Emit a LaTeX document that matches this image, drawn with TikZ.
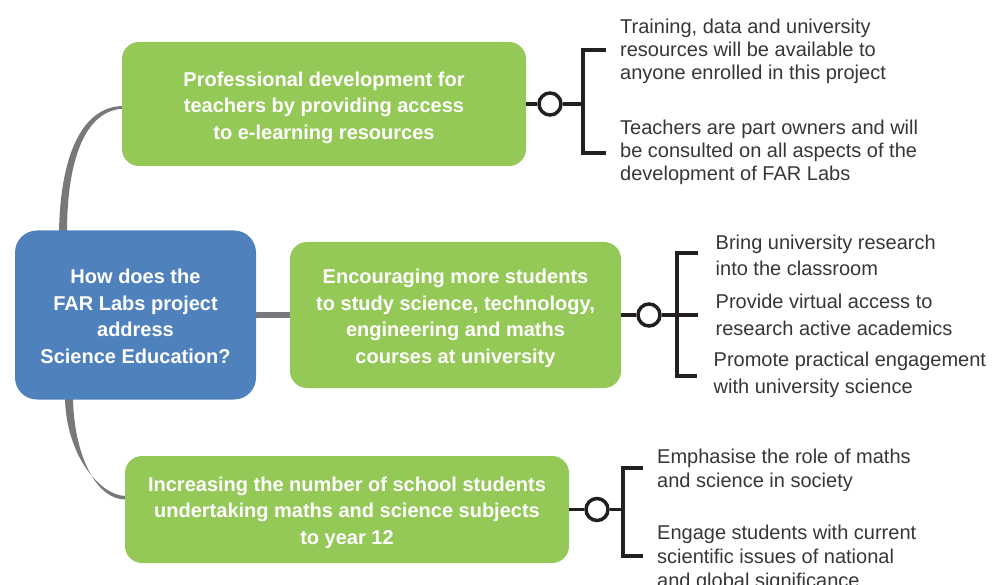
\documentclass[tikz,border=0pt]{standalone}
\usepackage{fontspec}
\setmainfont{Liberation Sans}
\usetikzlibrary{calc}
\definecolor{leafgreen}{HTML}{94C857}
\definecolor{hubblue}{HTML}{4F81BD}
\definecolor{stemgrey}{HTML}{77787B}
\definecolor{inkblack}{HTML}{231F20}
\begin{document}
\begin{tikzpicture}[x=1pt,y=-1pt,
  hub/.style={fill=hubblue, rounded corners=22pt, inner sep=0pt},
  topic/.style={fill=leafgreen, rounded corners=17pt, inner sep=0pt},
  boxtext/.style={text=white, font=\bfseries\fontsize{20}{26.5}\selectfont,
    align=center, inner sep=0pt},
  detail/.style={anchor=north west, align=left, inner sep=0pt,
    text=inkblack!90, font=\fontsize{20}{23}\selectfont},
  knob/.style={circle, draw=inkblack, line width=3.5pt, fill=white,
    minimum size=22pt, inner sep=0pt},
  wire/.style={draw=inkblack, line width=3.5pt},
  brace/.style={draw=inkblack, line width=4pt},
]
\useasboundingbox (0,0) rectangle (1006,585);

% tapered stems from the question to the upper and lower topics
\fill[stemgrey] (59,233) .. controls (60,160) and (80,105.8) .. (124,106)
  -- (124,108.6) .. controls (84,110) and (67,162) .. (67,233) -- cycle;
\fill[stemgrey] (65,398) .. controls (66,455) and (100,496) .. (126,496)
  -- (126,499.5) .. controls (96,500) and (74,455) .. (73,398) -- cycle;

% central question
\node[hub, minimum width=241pt, minimum height=169pt,
  label={[boxtext, yshift=-1.5pt]center:{How does the\\FAR Labs project\\address\\Science Education?}}]
  (q) at (135.5,315) {};

% topics
\node[topic, minimum width=404pt, minimum height=124pt,
  label={[boxtext, yshift=-3.5pt]center:{Professional development for\\teachers by providing access\\to e-learning resources}}]
  (t1) at (324,104) {};
\node[topic, minimum width=331pt, minimum height=146pt,
  label={[boxtext, yshift=-3.5pt]center:{Encouraging more students\\to study science, technology,\\engineering and maths\\courses at university}}]
  (t2) at (455.5,315) {};
\node[topic, minimum width=444pt, minimum height=107pt,
  label={[boxtext, yshift=-3pt]center:{Increasing the number of school students\\undertaking maths and science subjects\\to year 12}}]
  (t3) at (347,509.5) {};

\draw[stemgrey, line width=5.5pt] (q.east) -- (t2.west);

% knobs on the right of each topic
\node[knob] (k1) at (550,104) {};
\node[knob] (k2) at (649,315) {};
\node[knob] (k3) at (597,509.5) {};

\draw[wire] (t1.east) -- (k1.west);
\draw[wire] (t2.east) -- (k2.west);
\draw[wire] (t3.east) -- (k3.west);

% brackets
\coordinate (b1) at (583,104);
\coordinate (b1t) at (606,50);
\coordinate (b1b) at (606,153);
\draw[wire] (k1.east) -- (b1);
\draw[brace] (b1t) -| (b1) |- (b1b);

\coordinate (b2) at (677,315);
\coordinate (b2t) at (698,253);
\coordinate (b2m) at (698,315);
\coordinate (b2b) at (697,376);
\draw[wire] (k2.east) -- (b2m);
\draw[brace] (b2t) -| (b2) |- (b2b);

\coordinate (b3) at (623,509.5);
\coordinate (b3t) at (643,468);
\coordinate (b3b) at (643,556);
\draw[wire] (k3.east) -- (b3);
\draw[brace] (b3t) -| (b3) |- (b3b);

% details
\node[detail] (d1a) at (620,18.5) {Training, data and university\\resources will be available to\\anyone enrolled in this project};
\node[detail] (d1b) at (620,119.5) {Teachers are part owners and will\\be consulted on all aspects of the\\development of FAR Labs};

\node[detail, font=\fontsize{20}{25.5}\selectfont] (d2a) at (715.5,235) {Bring university research\\into the classroom};
\node[detail, font=\fontsize{20}{26.5}\selectfont] (d2b) at (715.5,294) {Provide virtual access to\\research active academics};
\node[detail, font=\fontsize{20}{26.5}\selectfont] (d2c) at (713.5,352) {Promote practical engagement\\with university science};

\node[detail, font=\fontsize{20}{24.5}\selectfont] (d3a) at (657,448.5) {Emphasise the role of maths\\and science in society};
\node[detail, font=\fontsize{20}{24}\selectfont] (d3b) at (657,524.5) {Engage students with current\\scientific issues of national\\and global significance};
\end{tikzpicture}
\end{document}
